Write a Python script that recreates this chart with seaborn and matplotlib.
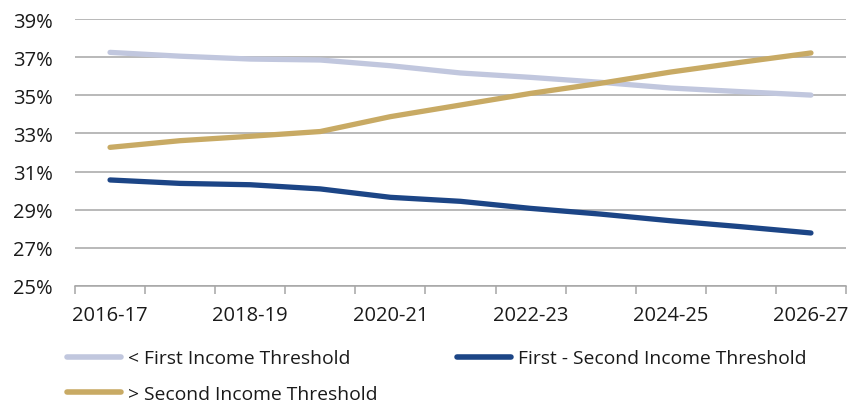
import matplotlib
matplotlib.use("Agg")
import matplotlib.pyplot as plt
import seaborn as sns
import pandas as pd
import numpy as np

years = ["2016-17", "2017-18", "2018-19", "2019-20", "2020-21", "2021-22",
         "2022-23", "2023-24", "2024-25", "2025-26", "2026-27"]
below_first = [37.25, 37.05, 36.90, 36.85, 36.55, 36.17, 35.94, 35.68, 35.38, 35.19, 35.01]
first_second = [30.56, 30.38, 30.31, 30.09, 29.65, 29.44, 29.07, 28.77, 28.42, 28.11, 27.78]
above_second = [32.27, 32.62, 32.85, 33.10, 33.88, 34.49, 35.10, 35.63, 36.22, 36.73, 37.22]

series_names = ["< First Income Threshold", "First - Second Income Threshold",
                "> Second Income Threshold"]
colors = {"< First Income Threshold": "#C1C7DE",
          "First - Second Income Threshold": "#1C4586",
          "> Second Income Threshold": "#C8AA64"}

df = pd.concat([
    pd.DataFrame({"pos": np.arange(len(years)), "value": vals, "series": name})
    for name, vals in zip(series_names, [below_first, first_second, above_second])
])

sns.set_theme(style="white")
plt.rcParams["font.family"] = ["Open Sans", "DejaVu Sans"]

fig = plt.figure(figsize=(8.59, 4.06), dpi=100)
ax = fig.add_axes([75 / 859, 1 - 287 / 406, (846 - 75) / 859, (287 - 20) / 406])

sns.lineplot(data=df, x="pos", y="value", hue="series", hue_order=series_names,
             palette=colors, linewidth=3.8, ax=ax, legend=False,
             solid_capstyle="round")

ax.set_xlim(-0.5, len(years) - 0.5)
ax.set_ylim(25, 39)
ax.set_yticks(np.arange(25, 40, 2))
ax.set_yticklabels([f"{v}%" for v in range(25, 40, 2)])
ax.yaxis.grid(True, color="#A6A6A6", linewidth=1.1)
ax.set_axisbelow(True)

ax.set_xticks(np.arange(0, len(years), 2))
ax.set_xticklabels(years[::2])
ax.set_xticks(np.arange(-0.5, len(years), 1), minor=True)
ax.tick_params(axis="x", which="major", length=0, pad=14, labelsize=14.5, colors="#1a1a1a")
ax.tick_params(axis="x", which="minor", length=6, width=1.1, color="#A6A6A6", direction="out",
               bottom=True)
ax.tick_params(axis="y", length=0, pad=16, labelsize=14.5, colors="#1a1a1a")
ax.set_xlabel("")
ax.set_ylabel("")

for s in ["top", "right", "left"]:
    ax.spines[s].set_visible(False)
ax.spines["bottom"].set_color("#A6A6A6")
ax.spines["bottom"].set_linewidth(1.1)

handles = [plt.Line2D([], [], color=colors[n], linewidth=4, solid_capstyle="round")
           for n in series_names]
order = [0, 2, 1]
fig.legend([handles[i] for i in order], [series_names[i] for i in order],
           loc="upper left", bbox_to_anchor=(50 / 859, 1 - 333 / 406), ncol=2,
           frameon=False, fontsize=13.9, handlelength=2.8, handletextpad=0.35,
           columnspacing=4.1, labelspacing=0.9, labelcolor="#1a1a1a")

fig.savefig("out.png", dpi=100)
